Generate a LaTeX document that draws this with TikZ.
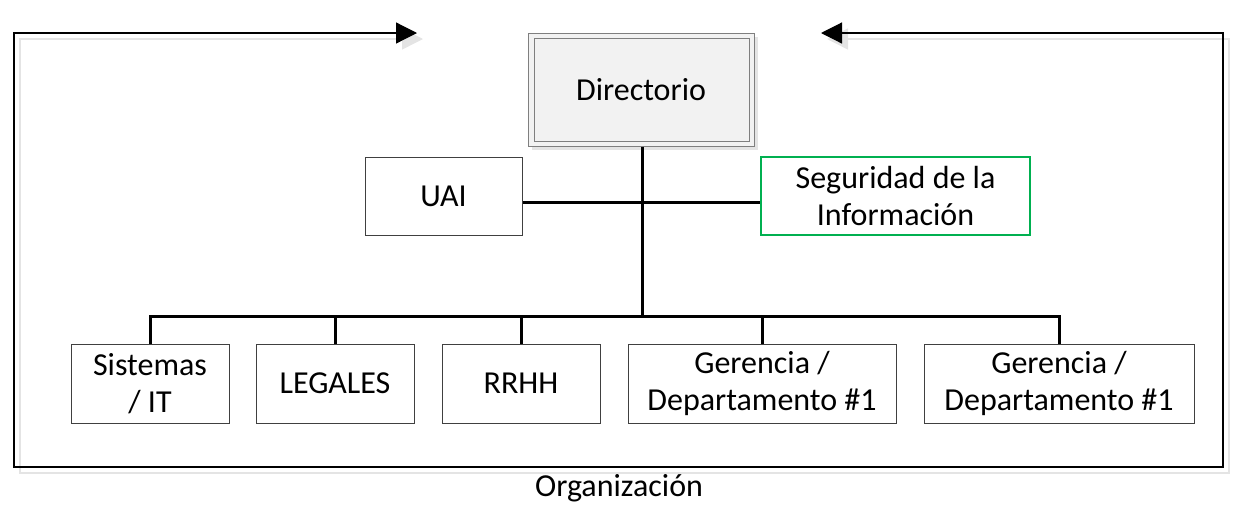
\documentclass[tikz,border=0pt]{standalone}
\usepackage{fontspec}
\setmainfont{Carlito}
\usetikzlibrary{arrows.meta,calc}
\definecolor{frameshadow}{HTML}{E4E4E4}
\definecolor{dirfill}{HTML}{F2F2F2}
\definecolor{dirline}{HTML}{7F7F7F}
\definecolor{boxline}{HTML}{404040}
\definecolor{greenline}{HTML}{00B050}
\tikzset{
  orgfont/.style={font=\fontsize{32pt}{37pt}\selectfont},
  orgbox/.style={draw=boxline, line width=1pt, fill=white, rectangle, inner sep=0pt,
    align=center, orgfont},
  orglink/.style={line width=3pt, black},
  frameline/.style={line width=1.2pt, black},
  orgtip/.tip={Triangle[length=21pt,width=21pt]}
}
\begin{document}
\begin{tikzpicture}[x=1pt,y=-1pt]
\useasboundingbox (0,0) rectangle (1252,507);
% frame corners
\coordinate (fa) at (821,33);
\coordinate (ftr) at (1223,33);
\coordinate (fbr) at (1223,467);
\coordinate (fbl) at (14,467);
\coordinate (ftl) at (14,33);
\coordinate (fb) at (417,33);
% frame shadow
\begin{scope}[shift={(6,6)}]
\draw[frameshadow, line width=1.5pt, {orgtip}-{orgtip}]
  (821,33) -- (1223,33) -- (1223,467) -- (14,467) -- (14,33) -- (417,33);
\end{scope}
% frame
\draw[frameline, {orgtip}-{orgtip}] (fa) -- (ftr) -- (fbr) -- (fbl) -- (ftl) -- (fb);
% Directorio
\fill[frameshadow] (532,37) rectangle (758,150);
\node[orgbox, draw=dirline, fill=dirfill, minimum width=226pt, minimum height=113pt]
  (dir) at (641,89.5) {};
\draw[dirline, line width=1pt] ([shift={(7,6)}]dir.north west) rectangle ([shift={(-5,-5)}]dir.south east);
\node[orgfont] (dirt) at (dir.center) {Directorio};
% staff
\node[orgbox, minimum width=157pt, minimum height=78pt] (uai) at (443.5,196) {UAI};
\node[orgbox, draw=greenline, line width=1.3pt, minimum width=269pt, minimum height=78pt] (seg) at (895.5,196)
  {Seguridad de la\\Información};
% children
\node[orgbox, minimum width=158pt, minimum height=79pt] (sis) at (150,383.5) {Sistemas\\/ IT};
\node[orgbox, minimum width=158pt, minimum height=79pt] (leg) at (335,383.5) {LEGALES};
\node[orgbox, minimum width=158pt, minimum height=79pt] (rrhh) at (521,383.5) {RRHH};
\node[orgbox, minimum width=268pt, minimum height=79pt] (ger1) at (762,383.5) {Gerencia /\\Departamento \#1};
\node[orgbox, minimum width=270pt, minimum height=79pt] (ger2) at (1059,383.5) {Gerencia /\\Departamento \#1};
% connectors
\coordinate (hub) at (642,202);
\coordinate (bus) at (642,316);
\draw[orglink] (dir.south -| bus) -- (bus);
\draw[orglink] (uai.east |- hub) -- (seg.west |- hub);
\draw[orglink, line cap=rect] (sis.north |- bus) -- (ger2.north |- bus);
\draw[orglink] (sis.north |- bus) -- (sis.north);
\draw[orglink] (leg.north |- bus) -- (leg.north);
\draw[orglink] (rrhh.north |- bus) -- (rrhh.north);
\draw[orglink] (ger1.north |- bus) -- (ger1.north);
\draw[orglink] (ger2.north |- bus) -- (ger2.north);
% label
\node[orgfont] (org) at (619,488) {Organización};
\end{tikzpicture}
\end{document}
